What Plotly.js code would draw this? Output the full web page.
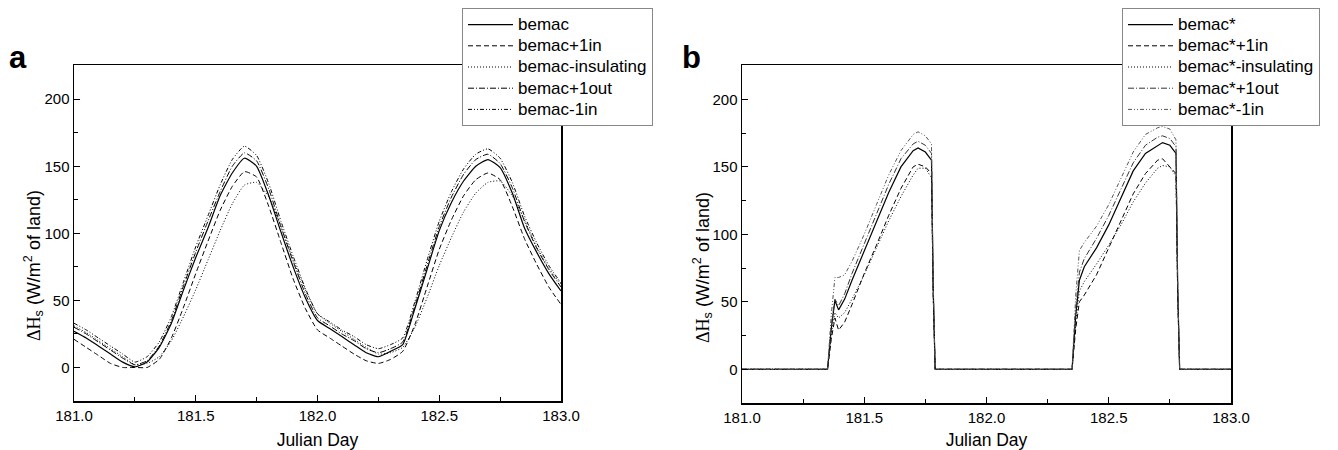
<!DOCTYPE html>
<html>
<head>
<meta charset="utf-8">
<script src="https://cdn.plot.ly/plotly-3.0.1.min.js"></script>
<style>html,body{margin:0;padding:0;background:#fff;}#chart{width:1338px;height:450px;}</style>
</head>
<body>
<div id="chart"></div>
<script>
// ---------- Panel a data ----------
const xA = [181.00,181.05,181.10,181.15,181.20,181.25,181.30,181.35,181.40,181.45,181.50,181.55,181.60,181.65,181.70,181.75,181.80,181.85,181.90,181.95,
            182.00,182.05,182.10,182.15,182.20,182.25,182.30,182.35,182.40,182.45,182.50,182.55,182.60,182.65,182.70,182.75,182.80,182.85,182.90,182.95,183.00];
const aBemac    = [27,22,16,10,4,0.5,4,15,33,58,82,104,128,145,156,150,128,101,75,52,
                   35,29,23,17,11,8,12,17,44,73,102,123,139,150,155,149,130,104,86,70,57];
const aPlus1in  = [21,15,9,3,0,0,0,6,22,45,70,94,117,135,146,142,120,93,66,44,
                   28,22,16,10,5,3,6,12,32,60,88,110,128,140,145,140,120,96,77,60,47];
const aInsul    = [31,26,20,14,8,2,3,8,20,38,58,80,102,122,136,138,127,105,80,58,
                   40,33,27,21,15,10,11,15,30,52,76,97,116,130,138,139,128,110,90,74,62];
const aPlus1out = [30,25,19,13,7,2,5,16,35,61,86,109,131,150,160,154,133,105,79,55,
                   37,31,25,20,14,11,14,19,46,76,105,127,144,155,159,152,134,109,89,73,60];
const aMinus1in = [33,28,22,16,10,4,8,19,38,64,90,113,136,155,165,158,137,109,83,59,
                   40,34,28,23,17,14,17,22,49,80,109,131,148,159,163,156,138,113,93,76,63];

// ---------- Panel b data ----------
const xB = [181.00,181.35,181.365,181.38,181.395,181.42,181.45,181.50,181.55,181.60,181.65,181.70,181.72,181.75,181.775,181.782,181.79,
            182.00,182.35,182.365,182.38,182.40,182.45,182.50,182.55,182.60,182.65,182.70,182.72,182.75,182.775,182.782,182.79,183.00];
const bBemac    = [0,0,30,51,44,52,66,88,109,131,150,162,164,161,155,60,0,
                   0,0,40,66,76,90,107,127,147,160,166,168,166,160,60,0,0];
const bPlus1in  = [0,0,22,38,29,35,48,71,92,114,134,150,152,150,145,55,0,
                   0,0,30,50,55,70,90,110,130,145,155,156,150,145,55,0,0];
const bInsul    = [0,0,26,42,38,42,52,70,90,110,128,144,149,149,142,55,0,
                   0,0,35,58,65,78,92,107,124,138,149,151,150,143,55,0,0];
const bPlus1out = [0,0,32,52,47,56,71,93,115,137,156,167,169,166,160,62,0,
                   0,0,45,72,82,97,114,134,153,166,172,173,171,165,62,0,0];
const bMinus1in = [0,0,40,68,68,70,80,100,122,144,162,174,176,173,167,65,0,
                   0,0,55,88,94,106,122,142,161,174,179,180,178,170,65,0,0];

const namesA = ["bemac","bemac+1in","bemac-insulating","bemac+1out","bemac-1in"];
const namesB = ["bemac*","bemac*+1in","bemac*-insulating","bemac*+1out","bemac*-1in"];
const panelLabels = ["a","b"];
const xTitle = "Julian Day";
const yTitle = "<span style='font-family:Liberation Serif'>ΔH</span><sub>s</sub> (W/m<sup>2</sup> of land)";

// ---------- styles ----------
const dashes = ["solid","5px,3px","1px,2px","6px,2px,1px,2px","4px,2px,1px,2px,1px,2px"];
const colorsA = ["#000","#000","#000","#000","#000"];
const colorsB = ["#000","#000","#000","#333","#555"];
const seriesA = [aBemac,aPlus1in,aInsul,aPlus1out,aMinus1in];
const seriesB = [bBemac,bPlus1in,bInsul,bPlus1out,bMinus1in];
const big = s => "<span style='font-size:17px'>" + s + "</span>";

const traces = [];
seriesA.forEach((ys,i)=>traces.push({x:xA,y:ys,type:'scatter',mode:'lines',name:big(namesA[i]),
  line:{color:colorsA[i],width:i===0?1.2:1,dash:dashes[i],shape:'spline',smoothing:0.5},
  xaxis:'x',yaxis:'y',legend:'legend'}));
seriesB.forEach((ys,i)=>traces.push({x:xB,y:ys,type:'scatter',mode:'lines',name:big(namesB[i]),
  line:{color:colorsB[i],width:i===0?1.2:1,dash:dashes[i]},
  xaxis:'x2',yaxis:'y2',legend:'legend2'}));

const F = "Liberation Sans, Arial, sans-serif";
function xax(dom, anchor){
  return {domain:dom, anchor:anchor, range:[181,183], dtick:0.5, tick0:181, tickformat:'.1f',
    ticks:'inside', ticklen:6, tickwidth:1, tickcolor:'#000',
    minor:{dtick:0.25, ticks:'inside', ticklen:4, tickcolor:'#000'},
    showline:true, linecolor:'#000', linewidth:1.5, mirror:true, showgrid:false, zeroline:false,
    tickfont:{family:F,size:15,color:'#000'},
    title:{text:xTitle, font:{family:F,size:17.5,color:'#000'}, standoff:12}};
}
function yax(dom, anchor){
  return {domain:dom, anchor:anchor, range:[-25,225.5], dtick:50, tick0:0,
    ticks:'inside', ticklen:6, tickwidth:1, tickcolor:'#000',
    minor:{dtick:25, ticks:'inside', ticklen:4, tickcolor:'#000'},
    showline:true, linecolor:'#000', linewidth:1.5, mirror:true, showgrid:false, zeroline:false,
    tickfont:{family:F,size:15,color:'#000'}};
}
const legStyle = {bgcolor:'#fff', bordercolor:'#888', borderwidth:1, font:{family:F,size:14,color:'#000'},
  xanchor:'left', yanchor:'top', tracegroupgap:0, itemwidth:45};
const titleFont = {family:F,size:18,color:'#000'};

const layout = {
  width:1338, height:450, paper_bgcolor:'#fff', plot_bgcolor:'#fff',
  margin:{l:0,r:0,t:0,b:0}, showlegend:true,
  xaxis: xax([74/1338, 561/1338],'y'),
  yaxis: yax([1-401/450, 1-65/450],'x'),
  xaxis2: xax([742/1338, 1231/1338],'y2'),
  yaxis2: yax([1-403/450, 1-65/450],'x2'),
  legend: Object.assign({x:462/1338, y:1-8/450}, legStyle),
  legend2: Object.assign({x:1122/1338, y:1-8/450}, legStyle),
  annotations:[
    {text:'<b>'+panelLabels[0]+'</b>', xref:'paper', yref:'paper', x:7/1338, y:1-57/450, xanchor:'left', yanchor:'middle', showarrow:false, font:{family:F,size:31,color:'#000'}},
    {text:'<b>'+panelLabels[1]+'</b>', xref:'paper', yref:'paper', x:680/1338, y:1-57/450, xanchor:'left', yanchor:'middle', showarrow:false, font:{family:F,size:31,color:'#000'}},
    {text:yTitle, xref:'paper', yref:'paper', x:33/1338, y:1-266/450, xanchor:'center', yanchor:'middle', textangle:-90, showarrow:false, font:titleFont},
    {text:yTitle, xref:'paper', yref:'paper', x:702/1338, y:1-268/450, xanchor:'center', yanchor:'middle', textangle:-90, showarrow:false, font:titleFont}
  ]
};
Plotly.newPlot('chart', traces, layout, {staticPlot:true, displayModeBar:false});
</script>
</body>
</html>
